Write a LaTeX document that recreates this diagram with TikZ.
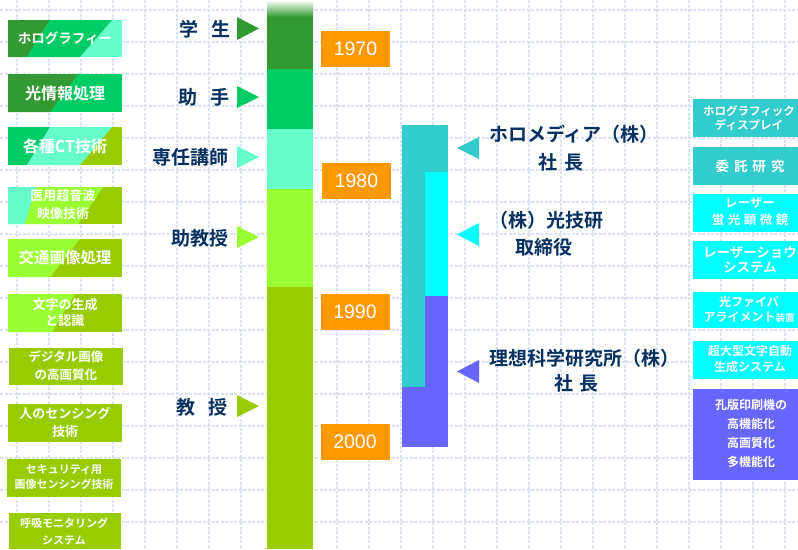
\documentclass[tikz,border=0pt]{standalone}
\usepackage{fontspec}
\setmainfont{Liberation Sans}
\newfontfamily\jp{Noto Sans CJK JP}[BoldFont={Noto Sans CJK JP Bold}]
\definecolor{dgreen}{HTML}{339933}
\definecolor{mgreen}{HTML}{00CC66}
\definecolor{aqua}{HTML}{66FFCC}
\definecolor{lgreen}{HTML}{99FF33}
\definecolor{olive}{HTML}{99CC00}
\definecolor{teal2}{HTML}{33CCCC}
\definecolor{cyan2}{HTML}{00FFFF}
\definecolor{purp}{HTML}{6666FF}
\definecolor{orng}{HTML}{FF9900}
\definecolor{navy}{HTML}{06305F}
\definecolor{gridc}{RGB}{218,225,248}
\newcommand{\fs}[2]{\fontsize{#1}{#2}\selectfont}
\begin{document}
\begin{tikzpicture}[x=1pt,y=-1pt,
  lbl/.style={font=\jp\bfseries\fs{19}{24}, text=navy, inner sep=0pt},
  lbox/.style={minimum width=114pt, inner sep=0pt, text=white, align=center, font=\jp\bfseries},
  year/.style={fill=orng, minimum width=69pt, minimum height=36pt, inner sep=0pt, text=white, font=\fs{19.5}{22}},
  gridl/.style={draw=gridc, line width=1.1pt, dash pattern=on 3pt off 1.5pt}]
\useasboundingbox (0,0) rectangle (798,549);
\fill[white] (0,0) rectangle (798,549);
% grid
\foreach \x in {17,49,...,785} \draw[gridl] (\x,0) -- (\x,549);
\foreach \y in {10,42,...,522} \draw[gridl] (0,\y) -- (798,\y);

% central bar
\shade[top color=white, bottom color=dgreen] (267,0) rectangle (313,17);
\fill[dgreen] (267,17) rectangle (313,69);
\fill[mgreen] (267,69) rectangle (313,129);
\fill[aqua] (267,129) rectangle (313,189);
\fill[lgreen] (267,189) rectangle (313,287);
\fill[olive] (267,287) rectangle (313,549);

% rank arrows
\fill[dgreen] (237,17) -- (259,28.5) -- (237,40) -- cycle;
\fill[mgreen] (237,86) -- (259,97) -- (237,108) -- cycle;
\fill[aqua] (237,146) -- (259,157) -- (237,168) -- cycle;
\fill[lgreen] (237,226) -- (259,237) -- (237,248) -- cycle;
\fill[olive] (237,395) -- (259,406) -- (237,417) -- cycle;

\node[lbl, anchor=east] (gakusei) at (231,29) {学\hspace{0.7em}生};
\node[lbl, anchor=east] (joshu) at (230,97) {助\hspace{0.7em}手};
\node[lbl, anchor=east] (koshi) at (229,157) {専任講師};
\node[lbl, anchor=east] (jokyoju) at (229,238) {助教授};
\node[lbl, anchor=east] (kyoju) at (228,407) {教\hspace{0.7em}授};

% years
\node[year] (y1970) at (355.5,49) {1970};
\node[year] (y1980) at (356.5,181) {1980};
\node[year] (y1990) at (355,311.5) {1990};
\node[year] (y2000) at (355,441.5) {2000};

% company bars
\fill[teal2] (402,125) rectangle (448,172);
\fill[teal2] (402,172) rectangle (425,387);
\fill[cyan2] (425,172) rectangle (448,296);
\fill[purp] (425,296) rectangle (448,387);
\fill[purp] (402,387) rectangle (448,447);

\fill[teal2] (479,137) -- (457,148) -- (479,159) -- cycle;
\fill[cyan2] (479,223) -- (457,234.5) -- (479,246) -- cycle;
\fill[purp] (479,360) -- (457,371.5) -- (479,383) -- cycle;

\node[lbl, anchor=west] (holo) at (489,134) {ホロメディア（株）};
\node[lbl] (holo2) at (561,162) {社\hspace{0.35em}長};
\node[lbl, anchor=west] (kogi) at (489,220) {（株）光技研};
\node[lbl] (kogi2) at (543.5,247) {取締役};
\node[lbl, anchor=west] (riso) at (489,358) {理想科学研究所（株）};
\node[lbl] (riso2) at (576.5,383) {社\hspace{0.35em}長};

% left boxes
\fill[aqua] (8,20) rectangle (122,57);
\fill[dgreen] (8,20) -- (50,20) -- (27,57) -- (8,57) -- cycle;
\fill[mgreen] (50,20) -- (112,20) -- (80,57) -- (27,57) -- cycle;
\node[lbox, font=\jp\bfseries\fs{13.5}{16}] (b1) at (65,38.5) {ホログラフィー};

\fill[mgreen] (8,74) rectangle (122,112);
\fill[dgreen] (8,74) -- (78,74) -- (50,112) -- (8,112) -- cycle;
\node[lbox, font=\jp\bfseries\fs{16}{18}] (b2) at (65,93) {光情報処理};

\fill[olive] (8,127) rectangle (122,165);
\fill[mgreen] (8,127) -- (50,127) -- (27,165) -- (8,165) -- cycle;
\fill[aqua] (50,127) -- (112,127) -- (80,165) -- (27,165) -- cycle;
\node[lbox, font=\jp\bfseries\fs{16}{18}] (b3) at (65,146) {各種CT技術};

\fill[olive] (8,187) rectangle (122,224);
\fill[aqua] (8,187) -- (36,187) -- (25,224) -- (8,224) -- cycle;
\fill[lgreen] (36,187) -- (103,187) -- (78,224) -- (25,224) -- cycle;
\node[lbox, font=\jp\bfseries\fs{13}{18}] (b4) at (63,205) {医用超音波\\映像技術};

\fill[olive] (8,239) rectangle (122,277);
\fill[lgreen] (8,239) -- (80,239) -- (50,277) -- (8,277) -- cycle;
\node[lbox, font=\jp\bfseries\fs{15.5}{18}] (b5) at (65,258) {交通画像処理};

\fill[olive] (8,294) rectangle (122,332);
\fill[lgreen] (8,294) -- (75,294) -- (52,332) -- (8,332) -- cycle;
\node[lbox, font=\jp\bfseries\fs{13}{16}] (b6) at (65,312.5) {文字の生成\\と認識};

\fill[olive] (9,348) rectangle (123,385);
\node[lbox, font=\jp\bfseries\fs{12.5}{18}] (b7) at (66,366) {デジタル画像\\の高画質化};

\fill[olive] (8,404) rectangle (122,442);
\node[lbox, font=\jp\bfseries\fs{13}{18}] (b8) at (65,422) {人のセンシング\\技術};

\fill[olive] (7,459) rectangle (121,497);
\node[lbox, font=\jp\bfseries\fs{11}{15}] (b9) at (64,477.5) {セキュリティ用\\画像センシング技術};

\fill[olive] (9,513) rectangle (121,549);
\node[lbox, font=\jp\bfseries\fs{11}{17}] (b10) at (64,531.5) {呼吸モニタリング\\システム};

% right boxes
\fill[teal2] (693,99) rectangle (800,137);
\node[lbox, minimum width=0pt, font=\jp\bfseries\fs{11.5}{13.5}] (r1) at (749,118) {ホログラフィック\\ディスプレイ};
\fill[teal2] (693,147) rectangle (800,185);
\node[lbox, minimum width=0pt, font=\jp\bfseries\fs{13.5}{16}] (r2) at (750,166) {委\hspace{5pt}託\hspace{5pt}研\hspace{5pt}究};
\fill[cyan2] (693,194) rectangle (800,232);
\node[lbox, minimum width=0pt, font=\jp\bfseries\fs{12.5}{17}] (r3) at (750,211.5) {レーザー\\蛍\hspace{3.5pt}光\hspace{3.5pt}顕\hspace{3.5pt}微\hspace{3.5pt}鏡};
\fill[cyan2] (693,241) rectangle (800,279);
\node[lbox, minimum width=0pt, font=\jp\bfseries\fs{13.5}{15}] (r4) at (750,259.5) {レーザーショウ\\システム};
\fill[cyan2] (693,292) rectangle (800,328);
\node[lbox, minimum width=0pt, font=\jp\bfseries\fs{12}{15}] (r5) at (749,309.5) {光ファイバ\\アライメント{\fs{9.5}{15}装置}};
\fill[cyan2] (693,341) rectangle (800,379);
\node[lbox, minimum width=0pt, font=\jp\bfseries\fs{12}{16}] (r6) at (750,359) {超大型文字自動\\生成システム};
\fill[purp] (693,389) rectangle (800,480);
\node[lbox, minimum width=0pt, font=\jp\bfseries\fs{12}{19}] (r7) at (751,433.5) {孔版印刷機の\\高機能化\\高画質化\\多機能化};
\end{tikzpicture}
\end{document}
